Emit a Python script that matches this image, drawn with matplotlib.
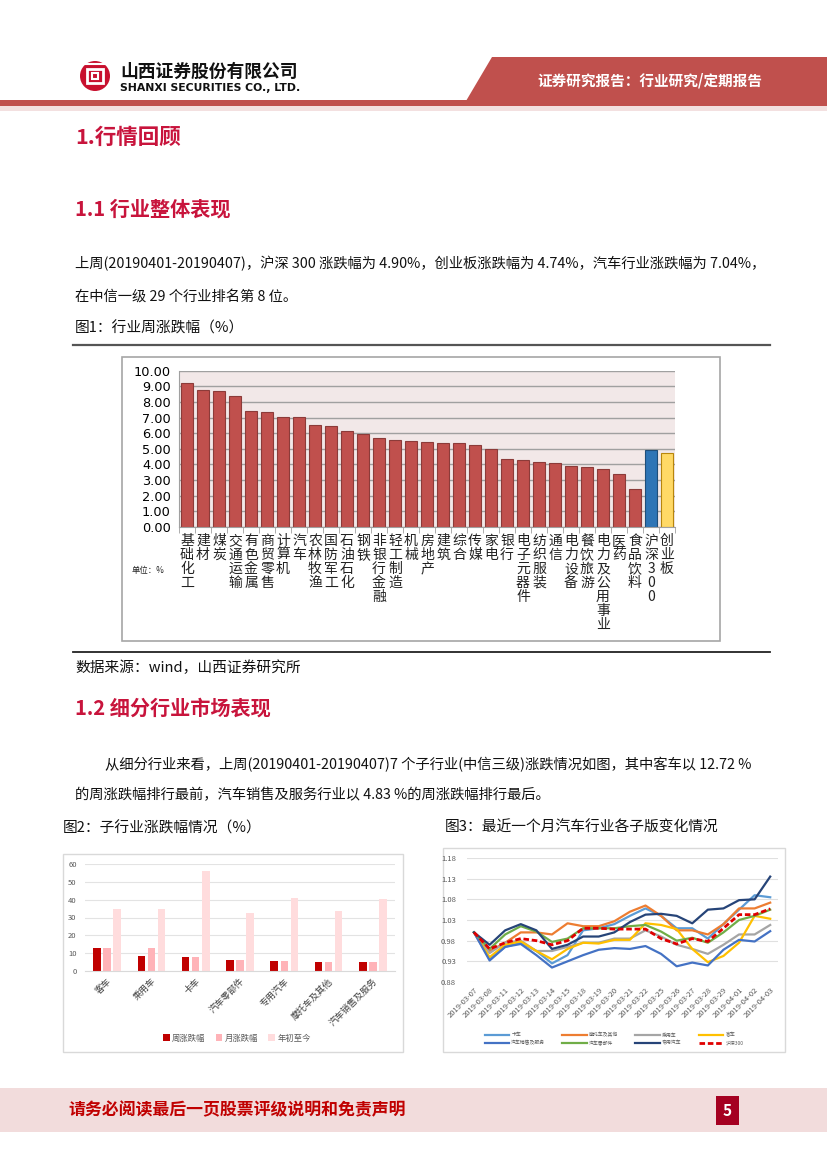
import matplotlib
matplotlib.use("Agg")
import matplotlib.pyplot as plt
import matplotlib.patches as mpatches
import numpy as np

plt.rcParams['font.family'] = ['Noto Sans CJK SC', 'DejaVu Sans']

W, H = 827, 1169

# ---------------- data ----------------
ind_names = ["基础化工", "建材", "煤炭", "交通运输", "有色金属", "商贸零售", "计算机", "汽车",
             "农林牧渔", "国防军工", "石油石化", "钢铁", "非银行金融", "轻工制造", "机械", "房地产",
             "建筑", "综合", "传媒", "家电", "银行", "电子元器件", "纺织服装", "通信", "电力设备",
             "餐饮旅游", "电力及公用事业", "医药", "食品饮料", "沪深300", "创业板"]
ind_values = [9.20, 8.78, 8.72, 8.36, 7.42, 7.33, 7.06, 7.04, 6.52, 6.46, 6.12, 5.95, 5.69,
              5.54, 5.48, 5.44, 5.35, 5.35, 5.27, 5.01, 4.33, 4.26, 4.14, 4.07, 3.90, 3.84,
              3.71, 3.37, 2.43, 4.90, 4.74]

sub_names = ["客车", "乘用车", "卡车", "汽车零部件", "专用汽车", "摩托车及其他", "汽车销售及服务"]
sub_week = [12.72, 8.5, 8.0, 6.3, 5.8, 5.1, 4.83]
sub_month = [12.7, 12.8, 7.9, 6.3, 5.7, 5.0, 4.8]
sub_ytd = [35.0, 35.0, 56.0, 32.5, 41.0, 33.5, 40.5]
sub_series = ["周涨跌幅", "月涨跌幅", "年初至今"]

dates = ["2019-03-07", "2019-03-08", "2019-03-11", "2019-03-12", "2019-03-13", "2019-03-14",
         "2019-03-15", "2019-03-18", "2019-03-19", "2019-03-20", "2019-03-21", "2019-03-22",
         "2019-03-25", "2019-03-26", "2019-03-27", "2019-03-28", "2019-03-29", "2019-04-01",
         "2019-04-02", "2019-04-03"]
truck = [1.000, 0.935, 0.965, 0.975, 0.955, 0.925, 0.945, 1.005, 1.010, 1.020, 1.040, 1.058,
         1.040, 1.010, 1.010, 0.985, 1.020, 1.055, 1.090, 1.085]
moto = [1.000, 0.955, 0.975, 1.000, 1.000, 0.995, 1.022, 1.015, 1.015, 1.027, 1.050, 1.065,
        1.040, 1.005, 1.005, 0.995, 1.020, 1.058, 1.058, 1.072]
passenger = [1.000, 0.950, 0.975, 0.980, 0.955, 0.955, 0.965, 0.975, 0.975, 0.985, 0.985, 1.005,
             0.990, 0.970, 0.960, 0.948, 0.970, 0.995, 0.995, 1.018]
bus = [1.000, 0.940, 0.970, 0.978, 0.955, 0.935, 0.960, 0.975, 0.973, 0.982, 0.982, 1.022,
       1.018, 1.008, 0.960, 0.928, 0.943, 0.975, 1.040, 1.033]
sales = [1.000, 0.932, 0.965, 0.972, 0.945, 0.915, 0.930, 0.945, 0.958, 0.962, 0.960, 0.967,
         0.948, 0.918, 0.927, 0.920, 0.958, 0.982, 0.978, 1.003]
parts = [1.000, 0.960, 0.995, 1.015, 1.002, 0.977, 0.985, 1.010, 1.010, 1.010, 1.015, 1.018,
         1.002, 0.980, 0.987, 0.975, 1.000, 1.030, 1.040, 1.055]
special = [1.000, 0.970, 1.005, 1.020, 1.005, 0.960, 0.970, 0.990, 0.990, 1.000, 1.025, 1.043,
           1.045, 1.040, 1.022, 1.055, 1.058, 1.078, 1.080, 1.135]
hs300 = [1.000, 0.960, 0.975, 0.985, 0.980, 0.970, 0.980, 1.010, 1.010, 1.008, 1.008, 1.008,
         0.985, 0.972, 0.985, 0.978, 1.010, 1.043, 1.043, 1.057]

# ---------------- figure ----------------
fig = plt.figure(figsize=(W / 100, H / 100), dpi=100)
bg = fig.add_axes([0, 0, 1, 1])
bg.set_xlim(0, W)
bg.set_ylim(H, 0)
bg.axis('off')


def box(x0, y0, x1, y1):
    return [x0 / W, 1 - y1 / H, (x1 - x0) / W, (y1 - y0) / H]


RED_T = '#C8143C'
BODY = 10.3
CAP = 10.6

# header
bg.add_patch(mpatches.Rectangle((0, 100), W, 6, color='#C0504D', lw=0))
bg.add_patch(mpatches.Rectangle((0, 106), W, 5, color='#F3E0E0', lw=0))
bg.add_patch(mpatches.Polygon([(492, 57), (W, 57), (W, 101), (466, 101)], closed=True,
                              color='#C0504D', lw=0))
bg.text(650, 81, "证券研究报告：行业研究/定期报告", color='white', fontsize=10.5,
        fontweight='bold', ha='center', va='center')
# logo
bg.add_patch(mpatches.Circle((95, 76), 15, color='#C8102E', lw=0))
bg.add_patch(mpatches.Rectangle((87, 69), 16, 14, fill=False, ec='white', lw=2))
bg.add_patch(mpatches.Rectangle((92, 73), 6, 6, fill=False, ec='white', lw=1.5))
bg.plot([80, 110], [64, 64], color='white', lw=1.5)
bg.text(120, 72, "山西证券股份有限公司", fontsize=12.8, fontweight='bold', va='center', color='#111111')
bg.text(120, 88, "SHANXI SECURITIES CO., LTD.", fontsize=7.8, fontweight='bold', va='center',
        family='DejaVu Sans', color='#111111')

# headings and text
bg.text(75, 137, "1.行情回顾", fontsize=15.5, fontweight='bold', color=RED_T, va='center')
bg.text(75, 209, "1.1 行业整体表现", fontsize=14.5, fontweight='bold', color=RED_T, va='center')
bg.text(75, 264, "上周(20190401-20190407)，沪深 300 涨跌幅为 4.90%，创业板涨跌幅为 4.74%，汽车行业涨跌幅为 7.04%，",
        fontsize=BODY, va='center', color='#111111')
bg.text(75, 297, "在中信一级 29 个行业排名第 8 位。", fontsize=BODY, va='center', color='#111111')
bg.text(75, 328, "图1：行业周涨跌幅（%）", fontsize=CAP, va='center', color='#111111')
bg.plot([73, 770], [345, 345], color='#555555', lw=1.6)
bg.add_patch(mpatches.Rectangle((122, 357), 598, 284, fill=False, ec='#A6A6A6', lw=1.2))
bg.plot([73, 770], [652, 652], color='#222222', lw=1.3)
bg.text(75, 668, "数据来源：wind，山西证券研究所", fontsize=CAP, va='center', color='#111111')
bg.text(75, 708, "1.2 细分行业市场表现", fontsize=14.5, fontweight='bold', color=RED_T, va='center')
bg.text(105, 765, "从细分行业来看，上周(20190401-20190407)7 个子行业(中信三级)涨跌情况如图，其中客车以 12.72 %",
        fontsize=BODY, va='center', color='#111111')
bg.text(75, 795, "的周涨跌幅排行最前，汽车销售及服务行业以 4.83 %的周涨跌幅排行最后。",
        fontsize=BODY, va='center', color='#111111')
bg.text(63, 828, "图2：子行业涨跌幅情况（%）", fontsize=CAP, va='center', color='#111111')
bg.text(445, 828, "图3：最近一个月汽车行业各子版变化情况", fontsize=CAP, va='center', color='#111111')
bg.add_patch(mpatches.Rectangle((63, 854), 340, 198, fill=False, ec='#D9D9D9', lw=1.0))
bg.add_patch(mpatches.Rectangle((443, 848), 342, 204, fill=False, ec='#D9D9D9', lw=1.0))

# footer
bg.add_patch(mpatches.Rectangle((0, 1088), W, 44, color='#F2DCDC', lw=0))
bg.text(68, 1110, "请务必阅读最后一页股票评级说明和免责声明", fontsize=12.2, fontweight='bold',
        color='#C00000', va='center')
bg.add_patch(mpatches.Rectangle((716, 1096), 23, 29, color='#A50021', lw=0))
bg.text(727.5, 1110.5, "5", fontsize=11, fontweight='bold', color='white', ha='center', va='center')

# ---------------- chart 1 ----------------
ax1 = fig.add_axes(box(179, 370.7, 675, 527))
x1 = np.arange(len(ind_names))
cols = ['#C0504D'] * len(ind_names)
cols[ind_names.index("沪深300")] = '#2E75B6'
cols[ind_names.index("创业板")] = '#FFD966'
edges = ['#8C3B39'] * len(ind_names)
edges[ind_names.index("沪深300")] = '#1F4E79'
edges[ind_names.index("创业板")] = '#B8860B'
ax1.set_facecolor('#F2E8E8')
ax1.set_axisbelow(True)
ax1.yaxis.grid(True, color='#A0A0A0', lw=1.0)
ax1.bar(x1, ind_values, width=0.72, color=cols, edgecolor=edges, lw=0.8)
ax1.set_xlim(-0.5, len(ind_names) - 0.5)
ax1.set_ylim(0, 10)
ax1.set_yticks(np.arange(0, 10.01, 1))
ax1.set_yticklabels([f"{v:.2f}" for v in np.arange(0, 10.01, 1)], fontsize=9.3,
                    family=['DejaVu Sans'])
for s in ['top', 'right']:
    ax1.spines[s].set_visible(False)
ax1.spines['left'].set_color('#A0A0A0')
ax1.spines['bottom'].set_color('#A0A0A0')
ax1.tick_params(axis='y', length=0, pad=6)
ax1.set_xticks(x1)
ax1.set_xticklabels(["\n".join(n) for n in ind_names], fontsize=10, linespacing=1.0,
                    va='top', color='#222222')
ax1.tick_params(axis='x', length=0, pad=5)
ax1.set_xticks(np.arange(-0.5, len(ind_names), 1), minor=True)
ax1.tick_params(axis='x', which='minor', length=4, color='#A0A0A0', direction='out')
bg.text(132, 570, "单位：%", fontsize=6, va='center', color='#222222')

# ---------------- chart 2 ----------------
ax2 = fig.add_axes(box(85, 864, 395, 971))
x2 = np.arange(len(sub_names))
ax2.set_axisbelow(True)
ax2.yaxis.grid(True, color='#E3E3E3', lw=0.8)
bw = 0.17
b1 = ax2.bar(x2 - 0.227, sub_week, width=bw, color='#C00000', label=sub_series[0])
b2 = ax2.bar(x2, sub_month, width=bw, color='#FFB3B8', label=sub_series[1])
b3 = ax2.bar(x2 + 0.227, sub_ytd, width=bw, color='#FFDCDD', label=sub_series[2])
ax2.set_xlim(-0.5, len(sub_names) - 0.5)
ax2.set_ylim(0, 60)
ax2.set_yticks(range(0, 61, 10))
ax2.tick_params(axis='y', labelsize=5.5, labelcolor='#595959', length=0, pad=6)
for s in ['top', 'right', 'left']:
    ax2.spines[s].set_visible(False)
ax2.spines['bottom'].set_color('#D9D9D9')
ax2.set_xticks(x2)
ax2.set_xticklabels(sub_names, rotation=45, ha='right', rotation_mode='anchor', fontsize=6.5,
                    color='#404040')
ax2.tick_params(axis='x', length=0, pad=4)
fig.legend(handles=[b1, b2, b3], loc='center', bbox_to_anchor=(237 / W, 1 - 1038 / H),
           ncol=3, frameon=False, fontsize=6, handlelength=0.8, handleheight=0.8,
           columnspacing=1.2, handletextpad=0.3, labelcolor='#595959')

# ---------------- chart 3 ----------------
ax3 = fig.add_axes(box(467, 858, 778, 982))
x3 = np.arange(len(dates))
series3 = [("卡车", truck, '#5B9BD5', '-'),
           ("摩托车及其他", moto, '#ED7D31', '-'),
           ("乘用车", passenger, '#A5A5A5', '-'),
           ("客车", bus, '#FFC000', '-'),
           ("汽车销售及服务", sales, '#4472C4', '-'),
           ("汽车零部件", parts, '#70AD47', '-'),
           ("专用汽车", special, '#264478', '-'),
           ("沪深300", hs300, '#E00000', '--')]
handles = {}
for name, vals, c, ls in series3:
    lw = 2.0 if ls == '--' else 1.6
    h, = ax3.plot(x3, vals, color=c, lw=lw, ls=ls, label=name,
                  dashes=(2, 1) if ls == '--' else (None, None))
    handles[name] = h
ax3.set_xlim(-0.45, len(dates) - 0.5)
ax3.set_ylim(0.88, 1.18)
ax3.set_yticks(np.arange(0.88, 1.181, 0.05))
ax3.set_yticklabels([f"{v:.2f}" for v in np.arange(0.88, 1.181, 0.05)])
ax3.yaxis.grid(True, color='#E0E0E0', lw=0.8)
ax3.set_axisbelow(True)
ax3.tick_params(axis='y', labelsize=5.5, labelcolor='#595959', length=0, pad=8)
for s in ['top', 'right', 'left', 'bottom']:
    ax3.spines[s].set_visible(False)
ax3.set_xticks(x3)
ax3.set_xticklabels(dates, rotation=45, ha='right', rotation_mode='anchor', fontsize=5.5,
                    color='#595959')
ax3.tick_params(axis='x', length=0, pad=3)
order = ["卡车", "汽车销售及服务", "摩托车及其他", "汽车零部件", "乘用车", "专用汽车", "客车", "沪深300"]
fig.legend(handles=[handles[n] for n in order], loc='center',
           bbox_to_anchor=(614 / W, 1 - 1039 / H), ncol=4, frameon=False, fontsize=3.5,
           handlelength=5, columnspacing=3.5, handletextpad=0.5, labelcolor='#595959',
           labelspacing=0.6)

fig.savefig("out.png", dpi=100)
